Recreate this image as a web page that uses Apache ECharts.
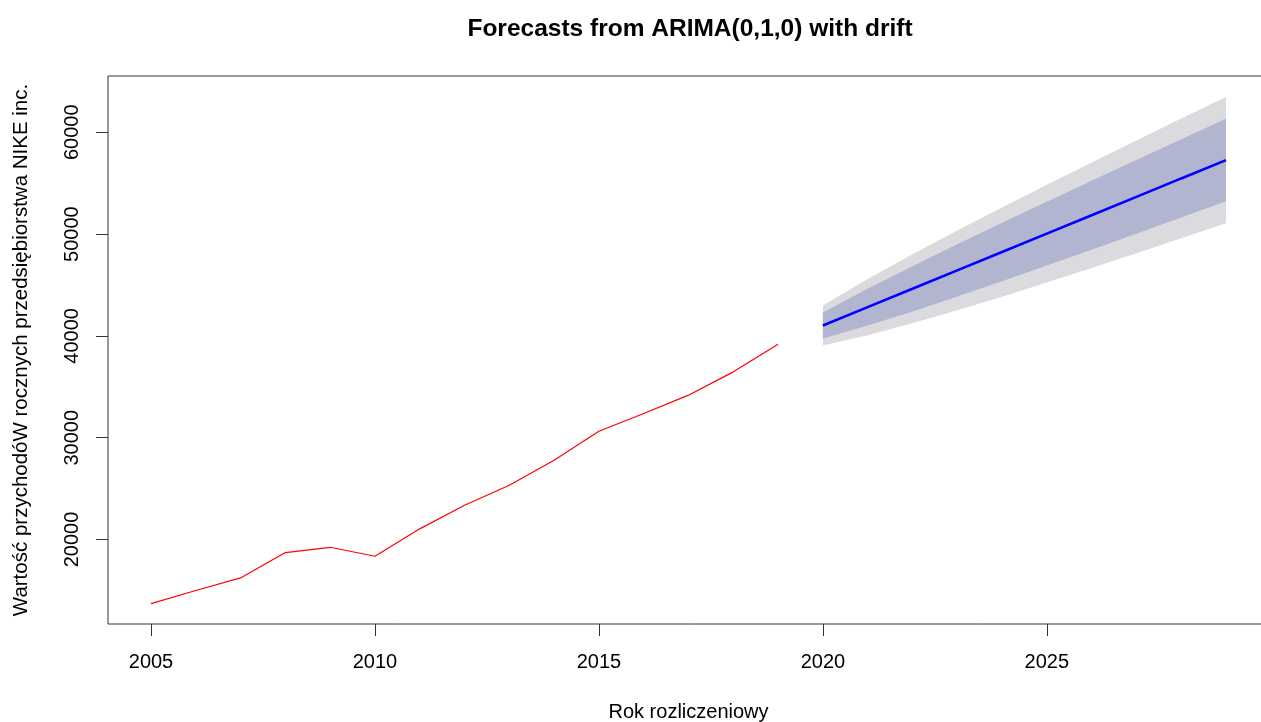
<!DOCTYPE html>
<html>
<head>
<meta charset="utf-8">
<script src="https://cdn.jsdelivr.net/npm/echarts@6/dist/echarts.min.js"></script>
<style>
  html, body { margin: 0; padding: 0; background: #fff; overflow: hidden; }
  #chart { width: 1280px; height: 722px; }
</style>
</head>
<body>
<div id="chart"></div>
<script>
// Observed annual revenue (fiscal years 2005-2019)
const years = [2005, 2006, 2007, 2008, 2009, 2010, 2011, 2012, 2013, 2014, 2015, 2016, 2017, 2018, 2019];
const revenue = [13710, 15000, 16230, 18720, 19240, 18360, 21050, 23370, 25340, 27790, 30640, 32380, 34180, 36470, 39190];

// ARIMA(0,1,0) with drift: point forecasts and prediction intervals
const fcYears = [2020, 2021, 2022, 2023, 2024, 2025, 2026, 2027, 2028, 2029];
const fcMean = [41020, 42830, 44630, 46440, 48240, 50050, 51860, 53660, 55470, 57270];
const lo80 = [39738, 41017, 42410, 43876, 45373, 46910, 48468, 50034, 51624, 53216];
const hi80 = [42302, 44643, 46850, 49004, 51107, 53190, 55252, 57286, 59316, 61324];
const lo95 = [39060, 40058, 41235, 42520, 43857, 45249, 46674, 48116, 49590, 51072];
const hi95 = [42980, 45602, 48025, 50360, 52623, 54851, 57046, 59204, 61350, 63468];

// Axis tick positions
const xTicks = [2005, 2010, 2015, 2020, 2025];
const yTicks = [20000, 30000, 40000, 50000, 60000];

const FONT = '"Liberation Sans", Arial, Helvetica, sans-serif';
const pairs = (xs, ys) => xs.map((x, i) => [x, ys[i]]);

// One shaded polygon per interval: upper edge left-to-right, lower edge back
function bandSeries(lo, hi, color, z) {
  return {
    type: 'custom',
    silent: true,
    z: z,
    clip: true,
    data: fcYears.map((x, i) => [x, lo[i], hi[i]]),
    encode: { x: 0, y: [1, 2] },
    renderItem: function (params, api) {
      if (params.dataIndex !== 0) return null;
      const upper = fcYears.map((x, i) => api.coord([x, hi[i]]));
      const lower = fcYears.map((x, i) => api.coord([x, lo[i]])).reverse();
      return {
        type: 'polygon',
        shape: { points: upper.concat(lower) },
        style: { fill: color, stroke: null }
      };
    }
  };
}

const chart = echarts.init(document.getElementById('chart'), null, { renderer: 'canvas' });

chart.setOption({
  animation: false,
  backgroundColor: '#ffffff',
  title: {
    text: 'Forecasts from ARIMA(0,1,0) with drift',
    left: 685,
    top: 12,
    textAlign: 'center',
    textStyle: { fontFamily: FONT, fontSize: 24.5, fontWeight: 'bold', color: '#000' }
  },
  grid: {
    left: 108, right: 11, top: 76, bottom: 98,
    outerBoundsMode: 'none',
    show: true, borderColor: '#333', borderWidth: 1, backgroundColor: 'transparent'
  },
  xAxis: {
    type: 'value',
    min: 2004.04,
    max: 2029.96,
    name: 'Rok rozliczeniowy',
    nameLocation: 'middle',
    nameGap: 78,
    nameTextStyle: { fontFamily: FONT, fontSize: 20, color: '#000' },
    axisLine: { show: false },
    splitLine: { show: false },
    axisTick: { show: true, inside: false, length: 12, customValues: xTicks, lineStyle: { color: '#333', width: 1 } },
    axisLabel: { show: true, customValues: xTicks, margin: 28, fontFamily: FONT, fontSize: 20, color: '#000',
                 formatter: v => String(v) }
  },
  yAxis: {
    type: 'value',
    min: 11705,
    max: 65530,
    name: 'Wartość przychodóW rocznych przedsiębiorstwa NIKE inc.',
    nameLocation: 'middle',
    nameRotate: 90,
    nameGap: 76,
    nameTextStyle: { fontFamily: FONT, fontSize: 20.5, color: '#000' },
    axisLine: { show: false },
    splitLine: { show: false },
    axisTick: { show: true, inside: false, length: 12, customValues: yTicks, lineStyle: { color: '#333', width: 1 } },
    axisLabel: { show: true, rotate: 90, customValues: yTicks, margin: 26, fontFamily: FONT, fontSize: 20, color: '#000',
                 formatter: v => String(v) }
  },
  series: [
    bandSeries(lo95, hi95, '#dbdbdf', 1),   // 95% interval
    bandSeries(lo80, hi80, '#b1b5cf', 2),   // 80% interval
    // point forecast
    {
      type: 'line', data: pairs(fcYears, fcMean),
      symbol: 'none', lineStyle: { color: '#0000ff', width: 2.6 }, z: 3
    },
    // observed series
    {
      type: 'line', data: pairs(years, revenue),
      symbol: 'none', lineStyle: { color: '#ff0000', width: 1.2 }, z: 3
    }
  ]
});
</script>
</body>
</html>
